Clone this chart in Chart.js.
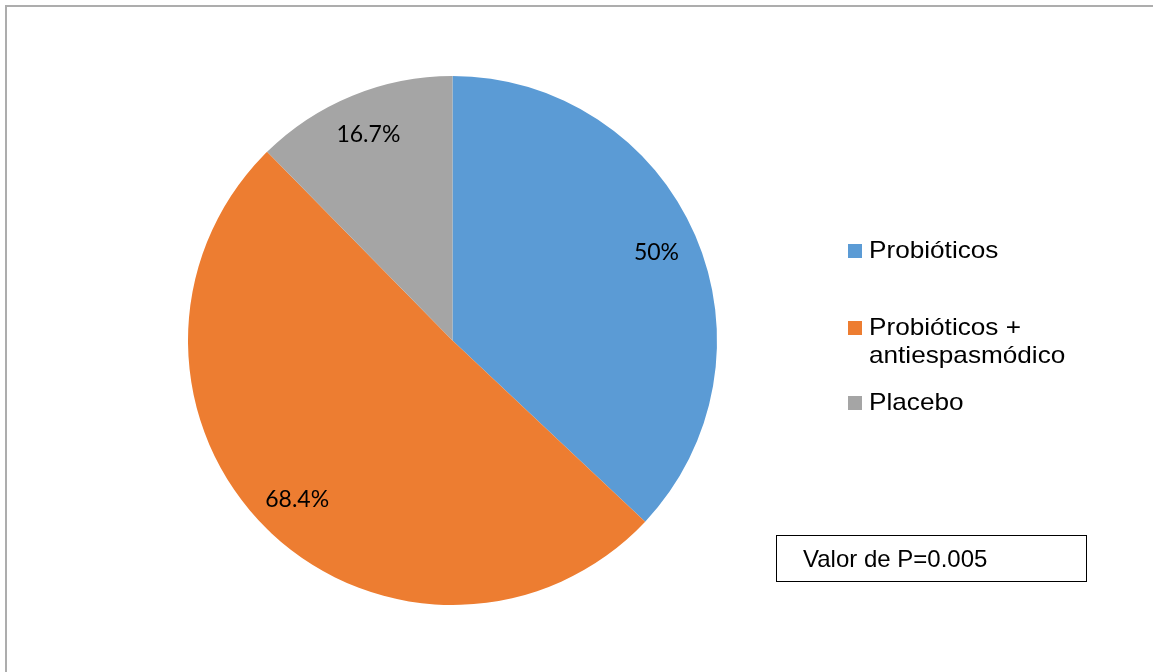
<!DOCTYPE html>
<html>
<head>
<meta charset="utf-8">
<script src="https://cdn.jsdelivr.net/npm/chart.js@4/dist/chart.umd.min.js"></script>
<style>
  html, body { margin: 0; padding: 0; background: #fff; }
  #wrap { position: relative; width: 1153px; height: 672px; overflow: hidden; }
  #c { position: absolute; left: 0; top: 0; }
  #frame { position: absolute; left: 5px; top: 5px; width: 1200px; height: 800px;
           border-left: 2px solid #adadad; border-top: 2px solid #adadad; pointer-events: none; }
  .lg-sq { position: absolute; width: 14px; height: 14px; }
  .lg-tx { position: absolute; font-family: "Liberation Sans", Arial, sans-serif; font-size: 24px;
           line-height: 28px; color: #000; white-space: pre; transform: scaleX(1.09); transform-origin: left top; }
  #pbox { position: absolute; left: 776px; top: 535px; width: 309px; height: 45px;
          border: 1.5px solid #000; box-sizing: content-box; }
  #pbox span { position: absolute; left: 26px; top: 9px; font-family: "Liberation Sans", Arial, sans-serif;
               font-size: 24px; line-height: 28px; color: #000; white-space: nowrap; }
</style>
</head>
<body>
<div id="wrap">
  <canvas id="c" width="1153" height="672"></canvas>
  <div id="frame"></div>
  <div id="legend"></div>
  <div id="pbox"><span id="ptext"></span></div>
</div>
<script>
// ---- data ----
const categories = ["Probióticos", "Probióticos +\nantiespasmódico", "Placebo"];
const values = [50, 68.4, 16.7];
const valueLabels = ["50%", "68.4%", "16.7%"];
const colors = ["#5B9BD5", "#ED7D31", "#A5A5A5"];
const noteText = "Valor de P=0.005";

// ---- legend (HTML) ----
const legendTops = [236, 313, 388];
const legend = document.getElementById('legend');
categories.forEach((cat, i) => {
  const sq = document.createElement('div');
  sq.className = 'lg-sq';
  sq.style.left = '848px';
  sq.style.top = (legendTops[i] + 8) + 'px';
  sq.style.background = colors[i];
  legend.appendChild(sq);
  const tx = document.createElement('div');
  tx.className = 'lg-tx';
  tx.style.left = '869px';
  tx.style.top = legendTops[i] + 'px';
  tx.textContent = cat;
  legend.appendChild(tx);
});
document.getElementById('ptext').textContent = noteText;

// ---- data labels plugin ----
const sliceLabels = {
  id: 'sliceLabels',
  afterDatasetsDraw(chart) {
    const ctx = chart.ctx;
    const meta = chart.getDatasetMeta(0);
    ctx.save();
    ctx.font = '23px Lato, "Open Sans", sans-serif';
    ctx.fillStyle = '#000';
    ctx.textAlign = 'center';
    ctx.textBaseline = 'middle';
    meta.data.forEach((arc, i) => {
      const p = arc.getProps(['x', 'y', 'startAngle', 'endAngle', 'outerRadius'], true);
      const mid = (p.startAngle + p.endAngle) / 2;
      const r = p.outerRadius * 0.84;
      ctx.fillText(valueLabels[i], p.x + Math.cos(mid) * r, p.y + Math.sin(mid) * r);
    });
    ctx.restore();
  }
};

new Chart(document.getElementById('c'), {
  type: 'pie',
  data: {
    labels: categories,
    datasets: [{
      data: values,
      backgroundColor: colors,
      borderWidth: 0
    }]
  },
  options: {
    responsive: false,
    animation: false,
    layout: { padding: { left: 188, right: 436, top: 76, bottom: 67 } },
    plugins: {
      legend: { display: false },
      tooltip: { enabled: false }
    }
  },
  plugins: [sliceLabels]
});
</script>
</body>
</html>
